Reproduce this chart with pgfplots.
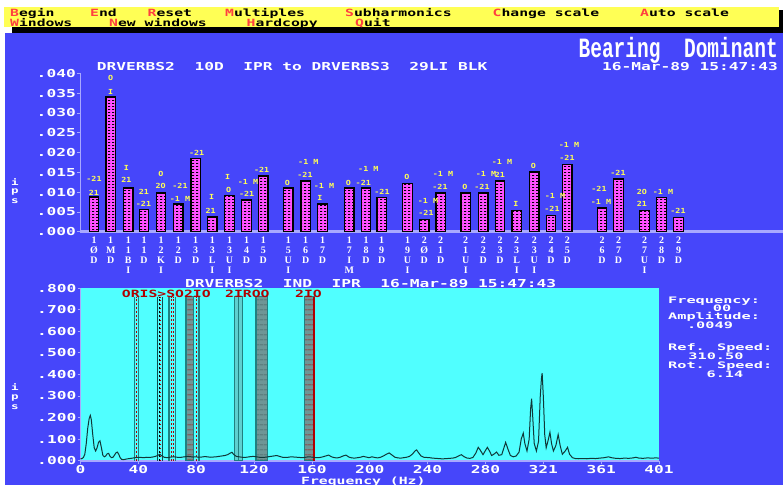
\documentclass[border=0pt]{standalone}
\usepackage{pgfplots}
\pgfplotsset{compat=1.18}
\usepackage{fontspec}
\usetikzlibrary{patterns,patterns.meta}

% screen-style fonts
\newfontfamily\pxb[FakeStretch=1.48]{DejaVu Sans Mono Bold}
\newfontfamily\pxw[FakeStretch=1.7]{DejaVu Sans Mono Bold}
\newfontfamily\pxs[FakeStretch=1.2]{DejaVu Sans Mono Bold}
\newfontfamily\bigmono[FakeStretch=0.7]{Liberation Mono Bold}
\newfontfamily\stackfont{Liberation Serif Bold}
\newcommand\px[1]{\fontsize{#1}{#1}\selectfont}

\definecolor{bgblue}{HTML}{4646FA}
\definecolor{plotcyan}{HTML}{50FFFF}
\definecolor{barpink}{HTML}{FF50FF}
\definecolor{annoyellow}{HTML}{FFFF55}
\definecolor{menuyellow}{HTML}{FFFF55}
\definecolor{menured}{HTML}{FF4040}
\definecolor{axislav}{HTML}{A8A8FF}
\definecolor{bandteal}{HTML}{208080}
\definecolor{bandgray}{HTML}{6E9696}
\definecolor{bandred}{HTML}{B00000}
\definecolor{specline}{HTML}{103838}

\tikzdeclarepattern{
  name=bartex, type=uncolored,
  bounding box={(0,0) and (4bp,3.4bp)},
  tile size={(4bp,3.4bp)},
  code={\draw[line width=0.7bp] (0.3bp,1.7bp) -- (2.5bp,1.7bp);}
}
\tikzdeclarepattern{
  name=stripes, type=uncolored,
  bounding box={(0,0) and (4bp,4.6bp)},
  tile size={(4bp,4.6bp)},
  code={\draw[line width=0.8bp] (-0.1bp,2.3bp) -- (4.1bp,2.3bp);}
}

\newcommand\mk[1]{{\color{menured}#1}}
\newcommand\an[3]{\node[anchor=center,inner sep=0pt,text=annoyellow,font=\pxs\px{7}] at (#1,#2) {#3};}

\begin{document}
\begin{tikzpicture}
\begin{scope}[x=1bp,y=-1bp]
  % screen background
  \fill[white] (0,0) rectangle (783,485);
  \fill[bgblue] (5,33) rectangle (783,485);
  % menu bar with its shadow
  \fill[black] (12,27.3) rectangle (783,33);
  \fill[black] (779,10) rectangle (783,33);
  \fill[menuyellow] (4,6.5) rectangle (779,27.3);
  \begin{scope}[every node/.style={anchor=base west,inner sep=0pt,font=\pxb\px{10},text=black}]
    \node at (10,16.2) {\mk{B}egin};
    \node at (90,16.2) {\mk{E}nd};
    \node at (147.5,16.2) {\mk{R}eset};
    \node at (225,16.2) {\mk{M}ultiples};
    \node at (345,16.2) {\mk{S}ubharmonics};
    \node at (492.5,16.2) {\mk{C}hange scale};
    \node at (640,16.2) {\mk{A}uto scale};
    \node at (10,26.2) {\mk{W}indows};
    \node at (109,26.2) {\mk{N}ew windows};
    \node at (246.5,26.2) {\mk{H}ardcopy};
    \node at (355,26.2) {\mk{Q}uit};
  \end{scope}
  % headings
  \node[anchor=base east,inner sep=0pt,text=white,font=\bigmono\px{28}] at (778,57) {Bearing\ \ Dominant};
  \node[anchor=base west,inner sep=0pt,text=white,font=\pxb\px{11}] at (96.7,70.7) {DRVERBS2\ \ 10D\ \ IPR to DRVERBS3\ \ 29LI BLK};
  \node[anchor=base east,inner sep=0pt,text=white,font=\pxb\px{11}] at (778,70.7) {16-Mar-89 15:47:43};
  % vertical axis names
  \begin{scope}[every node/.style={anchor=base,inner sep=0pt,text=white,font=\pxb\px{8.5}}]
    \node at (15,185) {i}; \node at (15,193.5) {p}; \node at (15,203.5) {s};
    \node at (15,390.5) {i}; \node at (15,399) {p}; \node at (15,409.5) {s};
  \end{scope}
\end{scope}

% ---------------- upper panel: dominant bearing amplitudes ----------------
\begin{axis}[
  at={(80bp,-231.7bp)}, anchor=south west,
  scale only axis, width=703bp, height=158.4bp,
  xmin=80, xmax=783, ymin=0, ymax=0.04,
  scaled y ticks=false,
  axis x line*=bottom, axis y line*=left,
  x axis line style={-, draw=axislav, line width=2.6bp},
  y axis line style={-, draw=axislav, line width=0.8bp},
  ytick={0,0.005,0.01,0.015,0.02,0.025,0.03,0.035,0.04},
  yticklabels={.000,.005,.010,.015,.020,.025,.030,.035,.040},
  yticklabel style={text=white, font=\pxb\px{11}, inner sep=1bp},
  ytick style={draw=axislav, line width=0.8bp},
  tick align=outside, major tick length=3bp,
  xtick={94,110.7,128.3,144,161,178.3,195.7,212.3,229.5,246.5,263.3,288.3,305.7,322.5,349.3,366,381.7,407.5,424.3,440.7,465.7,483.3,500,516.7,534.3,551,567.3,602,618.5,644.5,661.5,678.5},
  xticklabels={{1\\Ø\\D},{1\\M\\D},{1\\1\\B\\I},{1\\1\\D},{1\\2\\K\\I},{1\\2\\D},{1\\3\\D},{1\\3\\L\\I},{1\\3\\U\\I},{1\\4\\D},{1\\5\\D},{1\\5\\U\\I},{1\\6\\D},{1\\7\\D},{1\\7\\I\\M},{1\\8\\D},{1\\9\\D},{1\\9\\U\\I},{2\\Ø\\D},{2\\1\\D},{2\\1\\U\\I},{2\\2\\D},{2\\3\\D},{2\\3\\L\\I},{2\\3\\U\\I},{2\\4\\D},{2\\5\\D},{2\\6\\D},{2\\7\\D},{2\\7\\U\\I},{2\\8\\D},{2\\9\\D}},
  xticklabel style={align=center, anchor=north, text=white, font=\stackfont\px{10}, inner sep=1bp, yshift=-1bp},
  xtick style={draw=none},
  clip=false,
]
\addplot[ybar, bar width=9.5bp, fill=barpink, draw=black, line width=1.3bp,
  postaction={pattern=bartex, pattern color=black}] coordinates {
  (94,0.0088) (110.7,0.0340) (128.3,0.0110) (144,0.0056) (161,0.0098)
  (178.3,0.0070) (195.7,0.0185) (212.3,0.0037) (229.5,0.0091) (246.5,0.0080)
  (263.3,0.0141) (288.3,0.0110) (305.7,0.0128) (322.5,0.0070) (349.3,0.0110)
  (366,0.0110) (381.7,0.0087) (407.5,0.0122) (424.3,0.0031) (440.7,0.0098)
  (465.7,0.0098) (483.3,0.0098) (500,0.0128) (516.7,0.0054) (534.3,0.0151)
  (551,0.0041) (567.3,0.0170) (602,0.0060) (618.5,0.0133) (644.5,0.0054)
  (661.5,0.0086) (678.5,0.0036)};
\end{axis}

% ---------------- lower panel: spectrum ----------------
\begin{axis}[
  at={(80.5bp,-460.7bp)}, anchor=south west,
  scale only axis, width=578.5bp, height=172.7bp,
  xmin=0, xmax=401, ymin=0, ymax=0.8,
  scaled y ticks=false, scaled x ticks=false,
  axis background/.style={fill=plotcyan},
  axis x line*=bottom, axis y line*=left,
  x axis line style={-, draw=axislav, line width=1.6bp},
  y axis line style={-, draw=axislav, line width=0.8bp},
  ytick={0,0.1,0.2,0.3,0.4,0.5,0.6,0.7,0.8},
  yticklabels={.000,.100,.200,.300,.400,.500,.600,.700,.800},
  yticklabel style={text=white, font=\pxb\px{11}, inner sep=1bp},
  xtick={0,40.1,80.2,120.3,160.4,200.5,240.6,280.7,320.8,360.9,401},
  xticklabels={0,40,80,120,160,200,240,280,321,361,401},
  xticklabel style={text=white, font=\pxb\px{11}, inner sep=1bp},
  tick style={draw=axislav, line width=0.8bp},
  tick align=outside, major tick length=3bp,
  clip=false,
]
% fault frequency bands
\addplot[draw=bandteal, line width=1.2bp] coordinates {(37.3,0) (37.3,0.76)};
\addplot[draw=bandteal, line width=1.2bp] coordinates {(40.1,0) (40.1,0.76)};
\addplot[draw=bandred, line width=1bp, dash pattern=on 2bp off 2bp] coordinates {(38.7,0) (38.7,0.76)};

\addplot[draw=bandteal!60!black, line width=1.2bp] coordinates {(53.2,0) (53.2,0.76)};
\addplot[draw=bandteal!60!black, line width=1.2bp] coordinates {(56.9,0) (56.9,0.76)};
\addplot[draw=black, line width=1bp, dash pattern=on 2bp off 2bp] coordinates {(55,0) (55,0.76)};
\addplot[draw=bandred, line width=1bp, dash pattern=on 1bp off 3bp] coordinates {(55.3,0) (55.3,0.76)};

\addplot[draw=bandteal, line width=1.2bp] coordinates {(61.3,0) (61.3,0.76)};
\addplot[draw=bandteal, line width=1.2bp] coordinates {(66.0,0) (66.0,0.76)};
\addplot[draw=bandred, line width=1bp, dash pattern=on 1.5bp off 2.5bp] coordinates {(62.8,0) (62.8,0.76)};
\addplot[draw=bandred, line width=1bp, dash pattern=on 1.5bp off 2.5bp] coordinates {(64.5,0) (64.5,0.76)};

\addplot[fill=bandgray, draw=bandteal, line width=1.2bp,
  postaction={pattern=stripes, pattern color=bandred}] coordinates {(73.1,0.76) (78.1,0.76)} \closedcycle;

\addplot[draw=bandteal, line width=1.2bp] coordinates {(82.1,0) (82.1,0.76)};
\addplot[draw=bandred, line width=1bp, dash pattern=on 1.5bp off 2.5bp] coordinates {(80.1,0) (80.1,0.76)};

\addplot[fill=bandgray!45!plotcyan, draw=bandteal, line width=1.2bp] coordinates {(107.0,0.76) (112.1,0.76)} \closedcycle;
\addplot[draw=bandteal, line width=1bp] coordinates {(109.5,0) (109.5,0.76)};

\addplot[fill=bandgray, draw=bandteal, line width=1.2bp,
  postaction={pattern=stripes, pattern color=bandgray!60!black}] coordinates {(121.6,0.76) (129.7,0.76)} \closedcycle;

\addplot[fill=bandgray, draw=bandteal, line width=1.2bp,
  postaction={pattern=stripes, pattern color=bandred}] coordinates {(155.1,0.76) (161.8,0.76)} \closedcycle;
\addplot[draw=bandred, line width=1.2bp] coordinates {(161.8,0) (161.8,0.76)};

% velocity spectrum
\addplot[specline, line width=1bp, mark=none] coordinates {
(0,0.008) (1,0.010) (2,0.015) (3,0.03) (4,0.08) (5,0.15) (6,0.195) (6.8,0.21)
(7.5,0.19) (8.5,0.12) (9.5,0.06) (10.5,0.045) (11.5,0.06) (12.5,0.085) (13.5,0.092)
(14.5,0.06) (15.5,0.025) (16.5,0.018) (17.5,0.022) (18.5,0.032) (19.5,0.034)
(20.5,0.02) (21.5,0.014) (22.5,0.016) (23.5,0.025) (24.5,0.036) (25.5,0.04)
(26.5,0.03) (27.5,0.014) (28.5,0.006) (30,0.005) (32,0.008) (34,0.010) (36,0.012)
(38,0.014) (40,0.016) (42,0.015) (44,0.014) (46,0.016) (48,0.015) (50,0.017)
(52,0.02) (54,0.026) (55,0.03) (56,0.024) (58,0.016) (60,0.014) (62,0.016)
(64,0.018) (66,0.017) (68,0.015) (70,0.016) (72,0.018) (74,0.02) (76,0.019)
(78,0.017) (80,0.018) (82,0.016) (84,0.017) (86,0.019) (88,0.018) (90,0.016)
(92,0.017) (94,0.018) (96,0.02) (98,0.022) (100,0.024) (102,0.028) (104,0.036)
(105,0.039) (106,0.03) (108,0.02) (110,0.018) (112,0.016) (114,0.015) (116,0.017)
(118,0.019) (120,0.02) (122,0.018) (124,0.016) (126,0.015) (128,0.016) (130,0.018)
(132,0.02) (134,0.022) (136,0.024) (138,0.02) (140,0.016) (142,0.015) (144,0.016)
(146,0.018) (148,0.017) (150,0.016) (152,0.015) (154,0.014) (156,0.016) (158,0.018)
(160,0.017) (162,0.015) (164,0.014) (166,0.015) (168,0.018) (170,0.022) (172,0.026)
(174,0.018) (176,0.014) (178,0.013) (180,0.016) (182,0.022) (184,0.026) (186,0.017)
(188,0.013) (190,0.012) (192,0.014) (194,0.016) (196,0.02) (198,0.017) (200,0.014)
(202,0.018) (204,0.015) (206,0.013) (208,0.016) (210,0.022) (212,0.03) (214,0.036)
(216,0.026) (218,0.016) (220,0.013) (222,0.012) (224,0.014) (226,0.016) (228,0.02)
(230,0.03) (232,0.046) (233,0.05) (234,0.04) (236,0.022) (238,0.016) (240,0.015)
(242,0.014) (244,0.012) (246,0.011) (248,0.01) (250,0.009) (252,0.009) (254,0.01)
(256,0.011) (258,0.012) (260,0.015) (262,0.022) (264,0.028) (266,0.018) (268,0.012)
(270,0.011) (272,0.015) (274,0.035) (275.7,0.062) (277,0.05) (279,0.028)
(280.5,0.045) (282,0.062) (283.5,0.045) (285,0.024) (286.5,0.03) (288.4,0.04)
(290,0.025) (292,0.028) (294.7,0.085) (296.5,0.05) (298,0.024) (300,0.018)
(302,0.022) (304,0.04) (305.5,0.1) (306.9,0.128) (308,0.08) (309.5,0.045)
(311,0.1) (312,0.24) (312.7,0.287) (313.5,0.2) (314.5,0.08) (316,0.045)
(317.5,0.09) (318.7,0.3) (319.5,0.38) (320,0.406) (320.8,0.3) (321.8,0.12)
(322.8,0.06) (324,0.09) (325.4,0.132) (326.5,0.08) (327.8,0.045) (329.5,0.07)
(331.1,0.121) (332.5,0.07) (334,0.03) (336,0.045) (337.6,0.062) (339,0.03)
(341,0.014) (343,0.01) (345,0.009) (348,0.01) (351,0.009) (354,0.011) (357,0.01)
(360,0.012) (363,0.014) (366,0.018) (368,0.014) (371,0.011) (374,0.01) (377,0.012)
(380,0.011) (383,0.013) (385,0.016) (387,0.012) (390,0.011) (393,0.013) (396,0.012)
(399,0.013) (401,0.012)};
\end{axis}

\begin{scope}[x=1bp,y=-1bp]
  % fault labels above the bars
  \an{94}{192.7}{21}   \an{94}{179.3}{-21}
  \an{110.7}{91.7}{I}  \an{110.7}{78.3}{O}
  \an{126.5}{180}{21}  \an{126.5}{168.3}{I}
  \an{143.5}{204}{-21} \an{144}{191.7}{21}
  \an{160.7}{186}{2O}  \an{161}{174.3}{O}
  \an{180}{186}{-21}   \an{180}{199.3}{-1 M}
  \an{196.7}{152.7}{-21}
  \an{210.7}{210.7}{21} \an{211.7}{197.3}{I}
  \an{228.7}{190}{O}   \an{227.7}{176.7}{I}
  \an{246.7}{194}{-21} \an{248}{181.7}{-1 M}
  \an{261.7}{170}{-21}
  \an{287.3}{182.7}{O}
  \an{305}{175}{-21}   \an{308.3}{162.3}{-1 M}
  \an{320}{198.3}{I}   \an{324}{185.7}{-1 M}
  \an{348.3}{182.7}{O}
  \an{363.3}{182.7}{-21} \an{368.3}{168.7}{-1 M}
  \an{382}{191.7}{-21}
  \an{407}{176.7}{O}
  \an{426}{213.3}{-21} \an{428}{200.7}{-1 M}
  \an{440}{186.7}{-21} \an{443}{174.3}{-1 M}
  \an{465}{186.7}{O}
  \an{482}{186.7}{-21} \an{486}{174.3}{-1 M}
  \an{500}{175}{21}    \an{502}{162.3}{-1 M}
  \an{516}{204}{I}
  \an{533.5}{166}{O}
  \an{552}{209.3}{-21} \an{555}{195.7}{-1 M}
  \an{567}{157.7}{-21} \an{569}{145.3}{-1 M}
  \an{601}{202.3}{-1 M} \an{599}{189}{-21}
  \an{618}{173.3}{-21}
  \an{642}{204}{21}    \an{642}{192}{2O}
  \an{663}{192}{-1 M}
  \an{678}{210.7}{-21}

  % lower panel heading and band labels
  \node[anchor=base west,inner sep=0pt,text=white,font=\pxb\px{11}] at (185,287.5) {DRVERBS2\ \ IND\ \ IPR\ \ 16-Mar-89 15:47:43};
  \begin{scope}[every node/.style={anchor=base west,inner sep=0pt,text=bandred,font=\pxb\px{10}}]
    \node at (121.7,297.5) {ORIS>SO2IO};
    \node at (225,297.5) {2IROO};
    \node at (295,297.5) {2IO};
  \end{scope}

  % cursor read-out
  \begin{scope}[every node/.style={inner sep=0pt,text=white,font=\pxw\px{9}}]
    \node[anchor=base west] at (668,303) {Frequency:};
    \node[anchor=base] at (722,311) {00};
    \node[anchor=base west] at (668,319.5) {Amplitude:};
    \node[anchor=base] at (710,328) {.0049};
    \node[anchor=base west] at (668,350.5) {Ref. Speed:};
    \node[anchor=base] at (716,359.8) {310.50};
    \node[anchor=base west] at (668,368.5) {Rot. Speed:};
    \node[anchor=base] at (725,377.8) {6.14};
  \end{scope}
  \node[anchor=base west,inner sep=0pt,text=white,font=\pxb\px{10}] at (301,484) {Frequency (Hz)};
\end{scope}

\pgfresetboundingbox
\useasboundingbox (0,0) rectangle (783bp,-485bp);
\end{tikzpicture}
\end{document}
